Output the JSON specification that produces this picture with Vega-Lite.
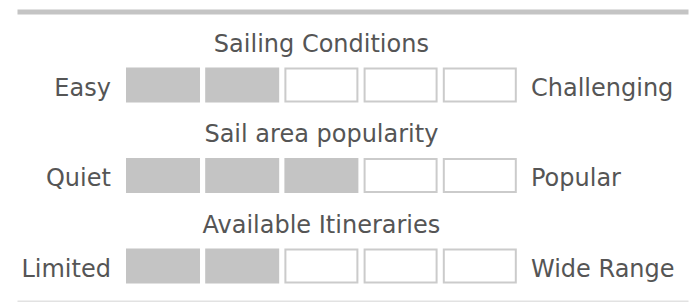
{
  "$schema": "https://vega.github.io/schema/vega-lite/v6.json",
  "width": 671,
  "height": 289.25,
  "autosize": {"type": "none"},
  "padding": {"left": 17, "top": 11.5, "right": 4, "bottom": 1.25},
  "background": "#ffffff",
  "config": {
    "view": {"stroke": null},
    "text": {"font": "DejaVu Sans", "fontSize": 24, "fill": "#555555"}
  },
  "datasets": {
    "boxes": [
      {"row": 1, "box": 1, "state": "filled"},
      {"row": 1, "box": 2, "state": "filled"},
      {"row": 1, "box": 3, "state": "empty"},
      {"row": 1, "box": 4, "state": "empty"},
      {"row": 1, "box": 5, "state": "empty"},
      {"row": 2, "box": 1, "state": "filled"},
      {"row": 2, "box": 2, "state": "filled"},
      {"row": 2, "box": 3, "state": "filled"},
      {"row": 2, "box": 4, "state": "empty"},
      {"row": 2, "box": 5, "state": "empty"},
      {"row": 3, "box": 1, "state": "filled"},
      {"row": 3, "box": 2, "state": "filled"},
      {"row": 3, "box": 3, "state": "empty"},
      {"row": 3, "box": 4, "state": "empty"},
      {"row": 3, "box": 5, "state": "empty"}
    ],
    "rows": [
      {"row": 1, "title": "Sailing Conditions", "left": "Easy", "right": "Challenging"},
      {"row": 2, "title": "Sail area popularity", "left": "Quiet", "right": "Popular"},
      {"row": 3, "title": "Available Itineraries", "left": "Limited", "right": "Wide Range"}
    ]
  },
  "resolve": {"axis": {"x": "independent"}},
  "layer": [
    {
      "data": {"name": "boxes"},
      "mark": {"type": "rect", "width": 72, "height": 33, "strokeWidth": 2},
      "encoding": {
        "x": {"field": "box", "type": "quantitative",
              "scale": {"domain": [-0.8434, 7.6288], "nice": false, "zero": false},
              "axis": {"orient": "top", "domain": true, "domainColor": "#c4c4c4", "domainWidth": 5, "domainCap": "butt", "labels": false, "ticks": false, "grid": false, "title": null}},
        "y": {"field": "row", "type": "quantitative",
              "scale": {"domain": [0.18785, 3.384], "reverse": true, "nice": false, "zero": false},
              "axis": null},
        "fill": {"field": "state", "type": "nominal",
                 "scale": {"domain": ["filled", "empty"], "range": ["#c4c4c4", "#ffffff"]}, "legend": null},
        "stroke": {"field": "state", "type": "nominal",
                   "scale": {"domain": ["filled", "empty"], "range": ["#c4c4c4", "#cbcbcb"]}, "legend": null}
      }
    },
    {
      "data": {"name": "rows"},
      "mark": {"type": "text", "align": "center", "baseline": "alphabetic", "dy": -33},
      "encoding": {
        "x": {"datum": 3, "type": "quantitative",
              "scale": {"domain": [-0.8434, 7.6288], "nice": false, "zero": false}, "axis": null},
        "y": {"field": "row", "type": "quantitative",
              "scale": {"domain": [0.18785, 3.384], "reverse": true, "nice": false, "zero": false}, "axis": null},
        "text": {"field": "title"}
      }
    },
    {
      "data": {"name": "rows"},
      "mark": {"type": "text", "align": "right", "baseline": "alphabetic", "dy": 11, "dx": -12.5},
      "encoding": {
        "x": {"datum": 0.5, "type": "quantitative",
              "scale": {"domain": [-0.8434, 7.6288], "nice": false, "zero": false}, "axis": null},
        "y": {"field": "row", "type": "quantitative",
              "scale": {"domain": [0.18785, 3.384], "reverse": true, "nice": false, "zero": false}, "axis": null},
        "text": {"field": "left"}
      }
    },
    {
      "data": {"name": "rows"},
      "mark": {"type": "text", "align": "left", "baseline": "alphabetic", "dy": 11, "dx": 11.6},
      "encoding": {
        "x": {"datum": 5.5, "type": "quantitative",
              "scale": {"domain": [-0.8434, 7.6288], "nice": false, "zero": false},
              "axis": {"orient": "bottom", "domain": true, "domainColor": "#e2e2e2", "domainWidth": 1.5, "labels": false, "ticks": false, "grid": false, "title": null}},
        "y": {"field": "row", "type": "quantitative",
              "scale": {"domain": [0.18785, 3.384], "reverse": true, "nice": false, "zero": false}, "axis": null},
        "text": {"field": "right"}
      }
    }
  ]
}
